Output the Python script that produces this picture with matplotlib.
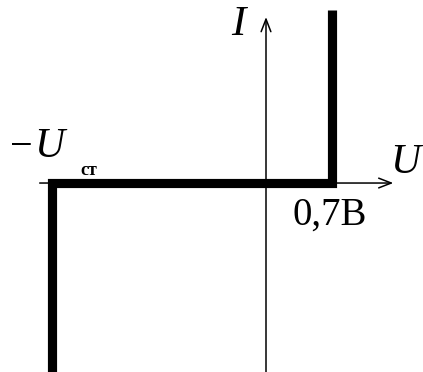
import matplotlib
matplotlib.use("Agg")
import matplotlib.pyplot as plt

# characteristic of the zener diode (arbitrary units, U_st ~ 2.27)
u_char = [-2.27, -2.27, 0.7, 0.7]
i_char = [-2.1, 0.0, 0.0, 1.84]

# axis extents
u_axis = [-2.40, 1.35]
i_axis = [-2.1, 1.76]

fig = plt.figure(figsize=(4.23, 3.72), dpi=100)
ax = fig.add_axes([0, 0, 1, 1])
ax.set_xlim(-2.821, 1.665)
ax.set_ylim(-2.004, 1.941)
ax.axis("off")

arrow = dict(arrowstyle="->,head_length=0.9,head_width=0.35", lw=1.1,
             color="black", shrinkA=0, shrinkB=0)
ax.annotate("", xy=(u_axis[1], 0), xytext=(u_axis[0], 0), arrowprops=arrow)
ax.annotate("", xy=(0, i_axis[1]), xytext=(0, i_axis[0]), arrowprops=arrow)

ax.plot(u_char, i_char, color="black", lw=6.6, solid_joinstyle="miter",
        solid_capstyle="butt")

serif = "Liberation Serif"
ax.text(-0.37, 1.57, "I", fontsize=31, fontstyle="italic", family=serif)
ax.text(1.315, 0.106, "U", fontsize=30, fontstyle="italic", family=serif)
ax.text(-2.72, 0.276, "\u2212", fontsize=29, family=serif)
ax.text(-2.46, 0.276, "U", fontsize=30, fontstyle="italic", family=serif)
ax.text(-1.97, 0.09, "ст", fontsize=13, family=serif, fontweight="bold")
ax.text(0.286, -0.445, "0,7В", fontsize=28, family=serif)

fig.savefig("out.png", dpi=100)
